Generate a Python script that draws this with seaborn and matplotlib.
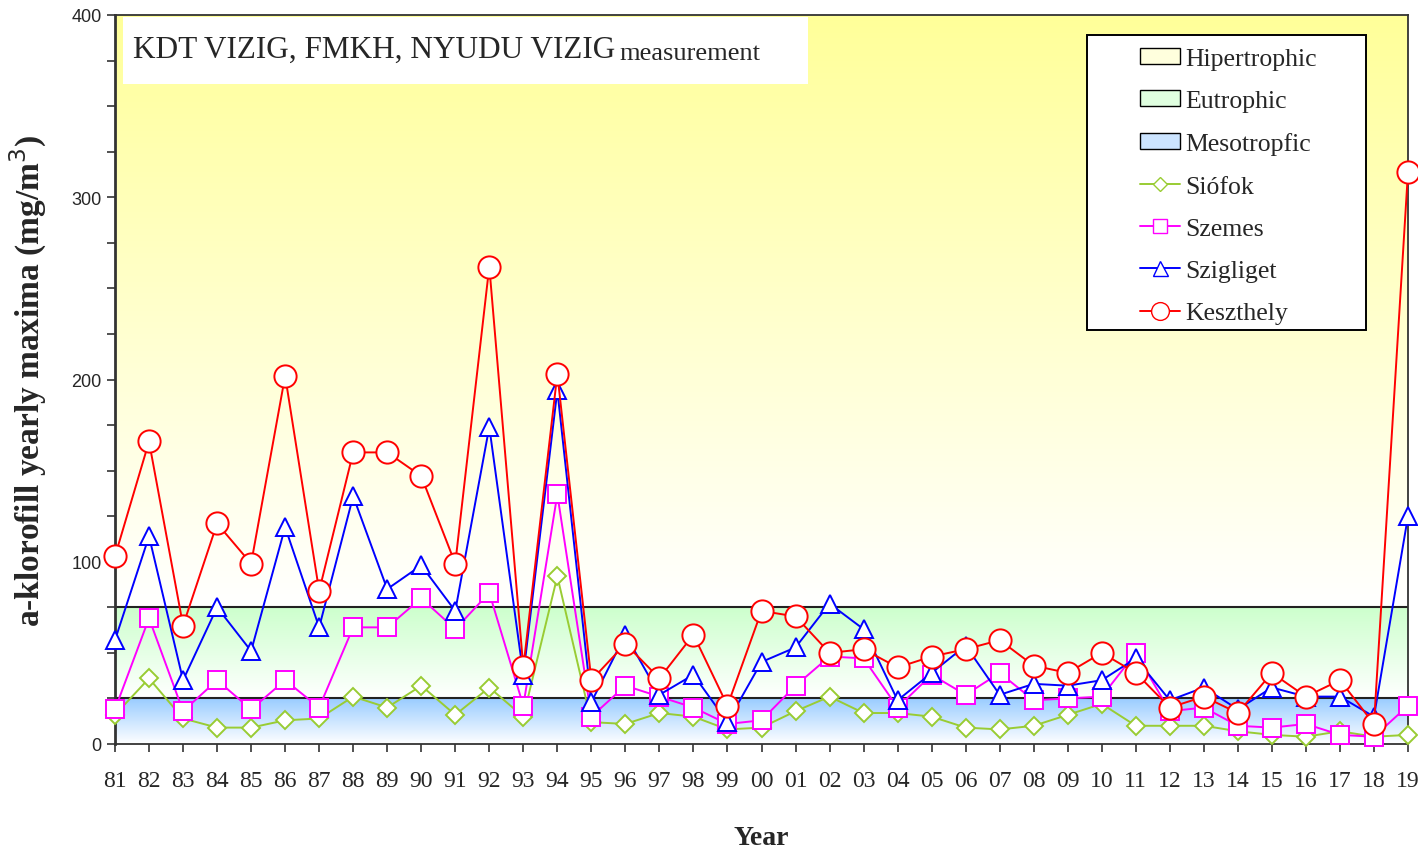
import numpy as np
import pandas as pd
import matplotlib
matplotlib.use("Agg")
import matplotlib.pyplot as plt
import seaborn as sns
from matplotlib.patches import Patch, Rectangle
from matplotlib.lines import Line2D
from matplotlib.colors import LinearSegmentedColormap

years = ["81", "82", "83", "84", "85", "86", "87", "88", "89", "90", "91", "92", "93", "94",
         "95", "96", "97", "98", "99", "00", "01", "02", "03", "04", "05", "06", "07", "08",
         "09", "10", "11", "12", "13", "14", "15", "16", "17", "18", "19"]

siofok = [16, 36, 14, 9, 9, 13, 14, 26, 20, 32, 16, 31, 15, 92, 12, 11, 17, 15, 8, 9,
          18, 26, 17, 17, 15, 9, 8, 10, 16, 22, 10, 10, 10, 7, 5, 4, 7, 4, 5]
szemes = [19, 69, 18, 35, 19, 35, 20, 64, 64, 80, 63, 83, 21, 137, 15, 32, 26, 20, 11, 13,
          32, 48, 47, 20, 38, 27, 39, 24, 25, 26, 50, 18, 20, 10, 9, 11, 5, 4, 21]
szigliget = [57, 114, 35, 75, 51, 119, 64, 136, 85, 98, 73, 174, 38, 194, 23, 60, 27, 38, 12, 45,
             53, 77, 63, 24, 39, 54, 27, 33, 32, 35, 47, 24, 31, 19, 31, 26, 26, 15, 125]
keszthely = [103, 166, 65, 121, 99, 202, 84, 160, 160, 147, 99, 262, 42, 203, 35, 55, 36, 60, 21, 73,
             70, 50, 52, 42, 48, 52, 57, 43, 39, 50, 39, 20, 26, 17, 39, 26, 35, 11, 314]

series_names = ["Siófok", "Szemes", "Szigliget", "Keszthely"]
band_names = ["Hipertrophic", "Eutrophic", "Mesotropfic"]

sns.set_theme(style="white")
serif = ["Liberation Serif", "DejaVu Serif"]
plt.rcParams["font.family"] = serif

fig = plt.figure(figsize=(14.18, 8.54), dpi=100)
ax = fig.add_axes([115/1418, 109/854, 1293/1418, 729/854])

n = len(years)
x = np.arange(n)
ax.set_xlim(0, n - 1)
ax.set_ylim(0, 400)

# gradient bands
def grad(c_top, c_bot, y0, y1):
    cmap = LinearSegmentedColormap.from_list("g", [c_bot, c_top])
    arr = np.linspace(0, 1, 256).reshape(-1, 1)
    ax.imshow(arr, cmap=cmap, origin="lower", aspect="auto",
              extent=(0, n - 1, y0, y1), zorder=0)

grad("#FFFF99", "#FFFFFF", 75, 400)
grad("#CCFFCC", "#FFFFFF", 25, 75)
grad("#99CCFF", "#FFFFFF", 0, 25)
for yl in (25, 75):
    ax.axhline(yl, color="#222222", lw=1.5, zorder=1)

df = pd.DataFrame({"pos": x, "Siófok": siofok, "Szemes": szemes,
                   "Szigliget": szigliget, "Keszthely": keszthely})

styles = {
    "Siófok": dict(color="#99CC33", marker="D", ms=9),
    "Szemes": dict(color="#FF00FF", marker="s", ms=12.5),
    "Szigliget": dict(color="#0000FF", marker="^", ms=13.5),
    "Keszthely": dict(color="#FF0000", marker="o", ms=16),
}
for i, name in enumerate(series_names):
    st = styles[name]
    sns.lineplot(data=df, x="pos", y=name, ax=ax, color=st["color"], marker=st["marker"],
                 markersize=st["ms"], markerfacecolor="white", markeredgecolor=st["color"],
                 markeredgewidth=1.4, linewidth=1.4, zorder=3 + i, clip_on=False)

ax.set_xticks(x)
ax.set_xticklabels(years, fontsize=17, family=serif)
ax.set_yticks([0, 100, 200, 300, 400])
ax.set_yticks(np.arange(0, 401, 25), minor=True)
ax.set_yticklabels(["0", "100", "200", "300", "400"], fontsize=13,
                   family=["Liberation Sans Narrow", "Liberation Sans"])
ax.tick_params(axis="both", which="both", direction="out", length=6, width=1.2,
               color="#333333", bottom=True, left=True)
ax.tick_params(axis="x", pad=13)
ax.set_xlabel("Year", fontsize=20, fontweight="bold", family=serif, labelpad=24)
ax.set_ylabel("a-klorofill yearly maxima (mg/m$^3$)", fontsize=24, fontweight="bold",
              family=serif, labelpad=16)
for s in ax.spines.values():
    s.set_color("#333333")
    s.set_linewidth(1.3)
    s.set_visible(True)
ax.spines["left"].set_linewidth(2)

# title box
ax.add_patch(Rectangle((0.006, 0.905), 0.53, 0.092, transform=ax.transAxes,
                       facecolor="white", edgecolor="none", zorder=2))
t1 = ax.text(0.014, 0.942, "KDT VIZIG, FMKH, NYUDU VIZIG", transform=ax.transAxes,
             fontsize=22.5, family=serif, va="baseline", zorder=8)
ax.annotate("measurement", xy=(1, 0), xycoords=t1, xytext=(3, 0), textcoords="offset points",
            fontsize=19, family=serif, va="bottom", zorder=8)

# legend box
ax.add_patch(Rectangle((0.7517, 0.5679), 0.2158, 0.4047, transform=ax.transAxes,
                       facecolor="white", edgecolor="black", lw=1.4, zorder=9))
handles = [
    Patch(facecolor="#FFFFDD", edgecolor="black", label=band_names[0]),
    Patch(facecolor="#E0FFE0", edgecolor="black", label=band_names[1]),
    Patch(facecolor="#CCE4FF", edgecolor="black", label=band_names[2]),
]
for name in series_names:
    st = styles[name]
    handles.append(Line2D([], [], color=st["color"], marker=st["marker"],
                          markersize=st["ms"] * 0.8, markerfacecolor="white",
                          markeredgecolor=st["color"], lw=1.4, label=name))
leg = ax.legend(handles=handles, loc="upper left", bbox_to_anchor=(0.7927, 0.955),
                frameon=False, labelspacing=0.78, handlelength=1.55, handletextpad=0.2,
                handleheight=0.6, borderpad=0, borderaxespad=0,
                prop={"family": serif, "size": 18.5})
leg.set_zorder(10)

fig.savefig("out.png", dpi=100)
